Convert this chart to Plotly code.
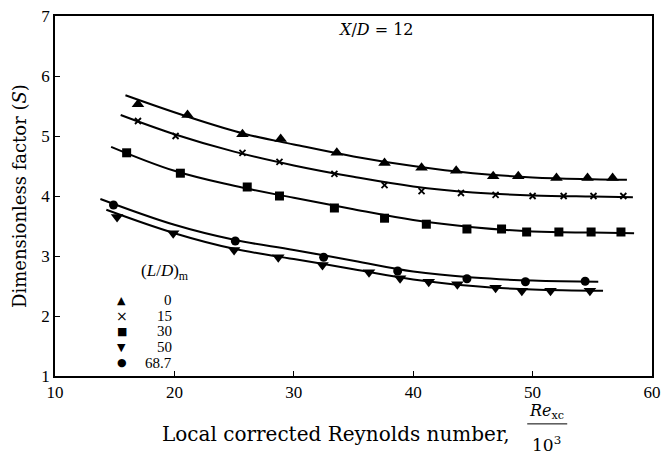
import plotly.graph_objects as go

# ---- data ----
ld_labels = ["0", "15", "30", "50", "68.7"]
ld_glyphs = ["▲", "×", "■", "▼", "●"]

x_ld0 = [16.95, 21.1, 25.7, 28.9, 33.6, 37.6, 40.7, 43.6, 46.7, 48.8, 52.0, 54.6, 56.7]
y_ld0 = [5.53, 5.35, 5.03, 4.95, 4.72, 4.55, 4.47, 4.42, 4.33, 4.33, 4.30, 4.30, 4.30]

x_ld15 = [16.95, 20.1, 25.7, 28.8, 33.4, 37.6, 40.7, 44.0, 46.9, 50.0, 52.6, 55.1, 57.6]
y_ld15 = [5.25, 5.00, 4.72, 4.57, 4.37, 4.18, 4.08, 4.05, 4.02, 4.00, 4.00, 4.00, 4.00]

x_ld30 = [16.0, 20.5, 26.1, 28.8, 33.4, 37.6, 41.1, 44.5, 47.4, 49.5, 52.2, 54.9, 57.4]
y_ld30 = [4.72, 4.38, 4.15, 4.00, 3.80, 3.63, 3.53, 3.45, 3.45, 3.40, 3.40, 3.40, 3.40]

x_ld50 = [15.2, 19.9, 25.0, 28.7, 32.4, 36.3, 38.9, 41.3, 43.7, 46.9, 49.1, 51.5, 54.8]
y_ld50 = [3.65, 3.38, 3.10, 2.98, 2.85, 2.73, 2.63, 2.57, 2.53, 2.47, 2.42, 2.42, 2.42]

x_ld687 = [14.9, 25.1, 32.5, 38.7, 44.5, 49.4, 54.4]
y_ld687 = [3.85, 3.25, 2.98, 2.75, 2.62, 2.57, 2.58]

# fitted curves
fx_ld0 = [15.9, 21, 26, 30, 35, 40, 45, 50, 55, 57.9]
fy_ld0 = [5.68, 5.33, 5.03, 4.86, 4.66, 4.50, 4.38, 4.31, 4.28, 4.27]
fx_ld15 = [15.5, 20, 25, 30, 35, 40, 45, 50, 55, 58.4]
fy_ld15 = [5.35, 5.03, 4.74, 4.51, 4.32, 4.16, 4.06, 4.01, 3.99, 3.98]
fx_ld30 = [14.7, 20, 25, 30, 35, 40, 45, 50, 55, 58.5]
fy_ld30 = [4.82, 4.42, 4.17, 3.97, 3.78, 3.60, 3.48, 3.41, 3.39, 3.38]
fx_ld50 = [14.3, 20, 25, 30, 35, 40, 45, 50, 55.9]
fy_ld50 = [3.77, 3.38, 3.12, 2.95, 2.78, 2.61, 2.50, 2.44, 2.42]
fx_ld687 = [13.8, 20, 25, 30, 35, 40, 45, 50, 55.5]
fy_ld687 = [3.95, 3.52, 3.27, 3.10, 2.92, 2.74, 2.64, 2.59, 2.57]

x_ticks = [10, 20, 30, 40, 50, 60]
y_ticks = [1, 2, 3, 4, 5, 6, 7]

NUM = "Liberation Serif"
TXT = "DejaVu Serif"
series = [
    (x_ld0, y_ld0, fx_ld0, fy_ld0, dict(symbol="triangle-up", size=11)),
    (x_ld15, y_ld15, fx_ld15, fy_ld15, dict(symbol="x-thin", size=6, line=dict(width=1.8, color="black"))),
    (x_ld30, y_ld30, fx_ld30, fy_ld30, dict(symbol="square", size=9)),
    (x_ld50, y_ld50, fx_ld50, fy_ld50, dict(symbol="triangle-down", size=11)),
    (x_ld687, y_ld687, fx_ld687, fy_ld687, dict(symbol="circle", size=9)),
]

fig = go.Figure()
for lab, (xs, ys, fxs, fys, mk) in zip(ld_labels, series):
    fig.add_trace(go.Scatter(x=fxs, y=fys, mode="lines",
                             line=dict(color="black", width=2, shape="spline", smoothing=1.1),
                             showlegend=False, hoverinfo="skip"))
    fig.add_trace(go.Scatter(x=xs, y=ys, mode="markers", name=lab, showlegend=False,
                             marker=dict(color="black", **mk)))


def note(x, y, text, font, xref="paper", yref="paper", xanchor="center", yanchor="middle"):
    fig.add_annotation(x=x, y=y, xref=xref, yref=yref, text=text, showarrow=False,
                       xanchor=xanchor, yanchor=yanchor, font=font)


# legend block (text), rows spaced like the reference
note(0.184, 0.289, "(<i>L</i>/<i>D</i>)<sub>m</sub>", dict(family=NUM, size=17, color="black"))
row0, step = 0.211, 0.0435
for i, (g, lab) in enumerate(zip(ld_glyphs, ld_labels)):
    yy = row0 - i * step
    note(0.112, yy, g, dict(family="DejaVu Sans", size=(14 if g == "×" else 11), color="black"))
    note(0.199, yy, lab, dict(family=NUM, size=15, color="black"), xanchor="right")

note(36.9, 6.77, "<i>X</i>/<i>D</i> = 12", dict(family=TXT, size=16, color="black"), xref="x", yref="y")

# x-axis title with fraction
note(0.4715, -0.161, "Local corrected Reynolds number,", dict(family=TXT, size=20, color="black"))
note(0.823, -0.099, "<i>Re</i><sub>xc</sub>", dict(family=TXT, size=16, color="black"))
note(0.823, -0.188, "10<sup>3</sup>", dict(family=TXT, size=17, color="black"))
fig.add_shape(type="line", xref="paper", yref="paper", x0=0.791, x1=0.858, y0=-0.133, y1=-0.133,
              line=dict(color="black", width=1))

fig.update_layout(
    width=662, height=460,
    margin=dict(l=55, r=10, t=16, b=84),
    plot_bgcolor="white", paper_bgcolor="white",
    font=dict(family=NUM, size=17, color="black"),
    showlegend=False,
    xaxis=dict(range=[10, 60], tickvals=x_ticks, ticks="inside", ticklen=5, tickcolor="black",
               showline=True, linecolor="black", linewidth=1.5, mirror=True, showgrid=False, zeroline=False,
               tickfont=dict(family=NUM, size=17), automargin=False),
    yaxis=dict(range=[1, 7], tickvals=y_ticks, ticks="inside", ticklen=5, tickcolor="black",
               showline=True, linecolor="black", linewidth=1.5, mirror=True, showgrid=False, zeroline=False,
               tickfont=dict(family=NUM, size=17), automargin=False,
               title=dict(text="Dimensionless factor (<i>S</i>)", font=dict(family=TXT, size=18), standoff=10)),
)
fig.write_html("out.html")
